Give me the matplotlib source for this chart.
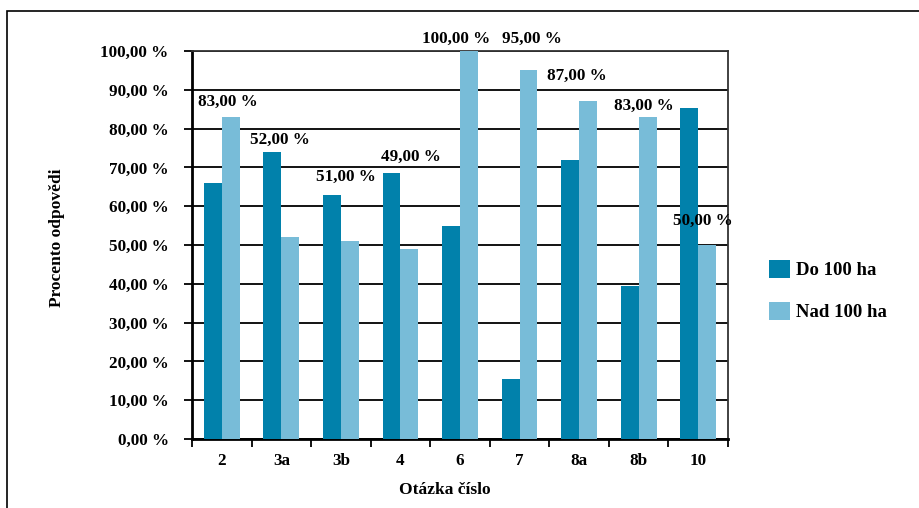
import matplotlib.pyplot as plt
import numpy as np
from matplotlib.patches import Patch, Rectangle

# Data
categories = ["2", "3a", "3b", "4", "6", "7", "8a", "8b", "10"]
do_100 = [66, 74, 63, 68.5, 55, 15.5, 72, 39.5, 85.3]
nad_100 = [83, 52, 51, 49, 100, 95, 87, 83, 50]
# Data labels (Excel labels moved by hand): shift from category center, height
label_dx = [0.10, -0.02, 0.08, 0.17, -0.07, 0.21, -0.04, 0.08, 0.07]
label_y = [86.9, 77.1, 67.5, 72.7, 103.1, 103.1, 93.6, 85.8, 56.2]

DO_COLOR = "#0181ab"
NAD_COLOR = "#78bcd8"

plt.rcParams.update({
    'font.family': ['Liberation Serif', 'DejaVu Serif'],
    'font.weight': 'bold',
    'font.size': 12.3,
})

fig = plt.figure(figsize=(9.2, 5.08), dpi=100)
W, H = 920, 508
ax = fig.add_axes([192 / W, (H - 439) / H, 536 / W, 388 / H])

x = np.arange(len(categories))
bw = 0.3
ax.bar(x - bw / 2, do_100, bw, color=DO_COLOR, zorder=3, label="Do 100 ha")
ax.bar(x + bw / 2, nad_100, bw, color=NAD_COLOR, zorder=3, label="Nad 100 ha")

for i, v in enumerate(nad_100):
    ax.text(x[i] + label_dx[i], label_y[i], f"{v:.2f}".replace('.', ',') + " %",
            ha='center', va='center', fontsize=12.3, zorder=4, clip_on=False)

ax.set_xlim(-0.5, len(categories) - 0.5)
ax.set_ylim(0, 100)
ax.set_yticks(np.arange(0, 101, 10))
ax.yaxis.set_major_formatter(plt.FuncFormatter(
    lambda v, pos: f"{v:.2f}".replace('.', ',') + " %"))
ax.tick_params(axis='y', direction='out', length=5.8, width=1.3, pad=11)

ax.set_xticks(np.arange(-0.5, len(categories), 1))
ax.set_xticklabels([])
ax.set_xticks(x, minor=True)
ax.set_xticklabels(categories, minor=True)
ax.tick_params(axis='x', which='major', direction='out', length=5.8, width=1.3)
ax.tick_params(axis='x', which='minor', length=0, pad=10)

ax.yaxis.grid(True, color='black', linewidth=1.3, zorder=1)
ax.set_axisbelow(True)
for s in ["left", "bottom"]:
    ax.spines[s].set_linewidth(2)
for s in ["top", "right"]:
    ax.spines[s].set_linewidth(1.3)
    ax.spines[s].set_color("#333333")

fig.text(57 / W, 1 - 238 / H, "Procento odpovědi", rotation=90,
         ha='center', va='center', fontsize=12.5)
fig.text(445 / W, 1 - 490 / H, "Otázka číslo", ha='center', va='center',
         fontsize=12.5)

legend_elements = [
    Patch(facecolor=DO_COLOR, edgecolor='none', label='Do 100 ha'),
    Patch(facecolor=NAD_COLOR, edgecolor='none', label='Nad 100 ha'),
]
fig.legend(handles=legend_elements, loc='upper left',
           bbox_to_anchor=(752 / W, 1 - 243 / H), frameon=False,
           fontsize=13.5, handlelength=1.1, handleheight=1.1,
           handletextpad=0.35, labelspacing=1.2)

fig.patches.append(Rectangle((7 / W, -0.1), 1.2, (H - 11) / H + 0.1,
                             transform=fig.transFigure, fill=False,
                             edgecolor='black', linewidth=1.2))

fig.savefig("out.png", dpi=100)
